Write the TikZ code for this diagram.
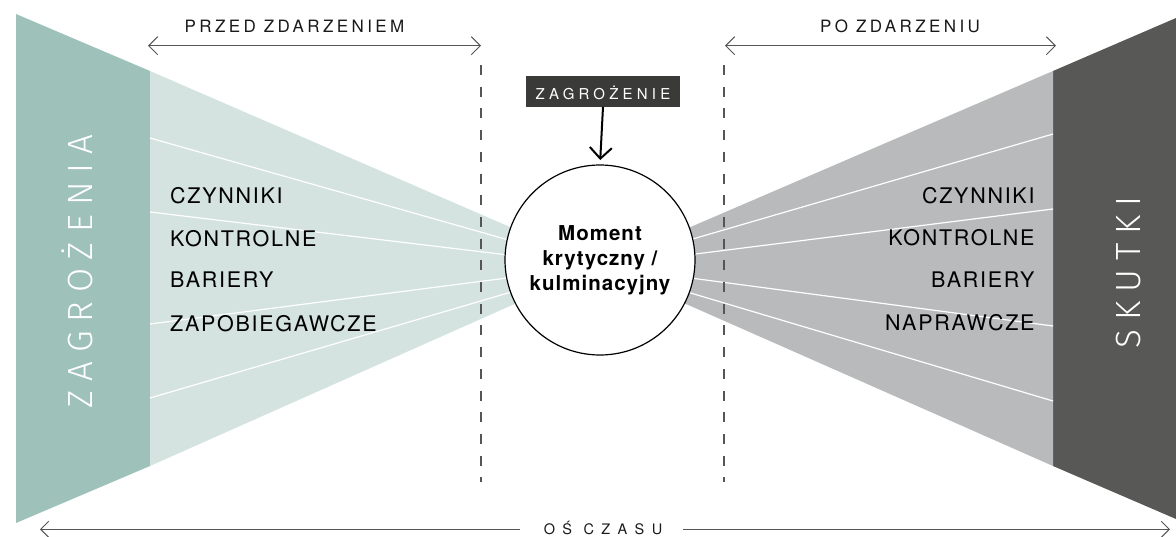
\documentclass[tikz,border=0pt]{standalone}
\usepackage{fontspec}
\setmainfont{TeX Gyre Heros}
\newfontfamily\lblfont[LetterSpace=8]{TeX Gyre Heros}
\newfontfamily\topfont[LetterSpace=20]{TeX Gyre Heros}
\IfFontExistsTF{Fira Sans Light}
  {\newfontfamily\bigfont[LetterSpace=26]{Fira Sans Light}}
  {\newfontfamily\bigfont[LetterSpace=24]{TeX Gyre Heros}}
\newfontfamily\axisfont[LetterSpace=51]{TeX Gyre Heros}
\newfontfamily\boxfont[LetterSpace=28]{TeX Gyre Heros}
\newfontfamily\circfont[LetterSpace=5]{TeX Gyre Heros}
\usetikzlibrary{arrows.meta}
\definecolor{dgreen}{HTML}{9EC2BA}
\definecolor{lgreen}{HTML}{D4E3E0}
\definecolor{dgray}{HTML}{585857}
\definecolor{lgray}{HTML}{B9BABB}
\definecolor{boxgray}{HTML}{3A3A39}
\definecolor{linegray}{HTML}{555555}
\begin{document}
\begin{tikzpicture}[x=1pt,y=-1pt,
  lbl/.style={font=\lblfont\fontsize{21.5}{25}\selectfont, inner sep=0pt, text=black},
  toplbl/.style={font=\topfont\fontsize{17}{20}\selectfont, inner sep=0pt, text=black!90, anchor=base},
  biglbl/.style={font=\bigfont\fontsize{35}{40}\selectfont, inner sep=0pt, text=white, rotate=90, anchor=base},
  fanline/.style={white, line width=1.2pt},
  eventline/.style={linegray, line width=1.3pt, dash pattern=on 10pt off 11.7pt},
  dimarrow/.style={linegray, line width=1pt, {Straight Barb[length=9pt,width=18pt]}-{Straight Barb[length=9pt,width=18pt]}},
  axarrow/.style={linegray, line width=1pt, -{Straight Barb[length=8pt,width=16pt]}},
  hitarrow/.style={black, line width=2pt, -{Straight Barb[length=11pt,width=22pt]}, shorten >=4.4pt},
]
\useasboundingbox (0,0) rectangle (1176,536);

% apex of the two fans
\coordinate (apex) at (600,266);

% left (threats) shapes
\fill[dgreen] (16,14) -- (150,71) -- (150,466) -- (16,523) -- cycle;
\fill[lgreen] (150,71) -- (apex) -- (150,466) -- cycle;
% right (consequences) shapes
\fill[dgray] (1053,71) -- (1176,18) -- (1176,519) -- (1053,466) -- cycle;
\fill[lgray] (1053,71) -- (apex) -- (1053,466) -- cycle;

% fan lines
\coordinate (fl1) at (150,138);
\coordinate (fl2) at (150,212);
\coordinate (fl3) at (150,324);
\coordinate (fl4) at (150,398);
\coordinate (fr1) at (1053,134);
\coordinate (fr2) at (1053,209);
\coordinate (fr3) at (1053,326);
\coordinate (fr4) at (1053,401);
\foreach \p in {fl1,fl2,fl3,fl4,fr1,fr2,fr3,fr4} \draw[fanline] (\p) -- (apex);

% event lines
\coordinate (e1t) at (481,65);
\coordinate (e1b) at (481,482);
\coordinate (e2t) at (724,65);
\coordinate (e2b) at (724,482);
\draw[eventline] (e1t) -- (e1b);
\draw[eventline] (e2t) -- (e2b);

% central circle
\node[circle, draw=black, line width=1.2pt, fill=white, minimum size=190pt, inner sep=0pt,
      align=center, font=\circfont\bfseries\fontsize{20.5}{25}\selectfont] (circ) at (600,260)
      {Moment\\krytyczny /\\kulminacyjny};

% hazard box
\node[fill=boxgray, text=white, minimum width=154pt, minimum height=31pt, inner sep=0pt,
      text height=16.6pt, text depth=0pt, font=\boxfont\fontsize{15}{18}\selectfont] (zbox) at (603,91.2)
      {ZAGROŻENIE};
\draw[hitarrow] (zbox.south) -- (circ.north);

% side labels
\node[lbl, anchor=base west] (l1) at (170,203) {CZYNNIKI};
\node[lbl, anchor=base west] (l2) at (170,246) {KONTROLNE};
\node[lbl, anchor=base west] (l3) at (170,287) {BARIERY};
\node[lbl, anchor=base west] (l4) at (170,331) {ZAPOBIEGAWCZE};
\node[lbl, anchor=base east] (r1) at (1034.7,203) {CZYNNIKI};
\node[lbl, anchor=base east] (r2) at (1034.7,245) {KONTROLNE};
\node[lbl, anchor=base east] (r3) at (1034.7,287) {BARIERY};
\node[lbl, anchor=base east] (r4) at (1034.7,330) {NAPRAWCZE};

% vertical titles
\node[biglbl] (zag) at (92,271.5) {ZAGROŻENIA};
\node[biglbl] (sk) at (1140.7,272.5) {SKUTKI};

% before / after
\node[toplbl] (pre) at (294.5,32.3) {PRZED ZDARZENIEM};
\node[toplbl] (post) at (900,32.3) {PO ZDARZENIU};
\coordinate (preL) at (148,45.7);
\coordinate (preR) at (481,45.7);
\coordinate (postL) at (725,45.7);
\coordinate (postR) at (1056,45.7);
\draw[dimarrow] (preL) -- (preR);
\draw[dimarrow] (postL) -- (postR);

% time axis
\node[font=\axisfont\fontsize{14.5}{17}\selectfont, anchor=base, inner sep=0pt, text=black!90] (axis) at (603,534.3) {OŚ CZASU};
\coordinate (axa) at (520,529.3);
\coordinate (axL) at (40,529.3);
\coordinate (axb) at (683,529.3);
\coordinate (axR) at (1170,529.3);
\draw[axarrow] (axa) -- (axL);
\draw[axarrow] (axb) -- (axR);
\end{tikzpicture}
\end{document}
